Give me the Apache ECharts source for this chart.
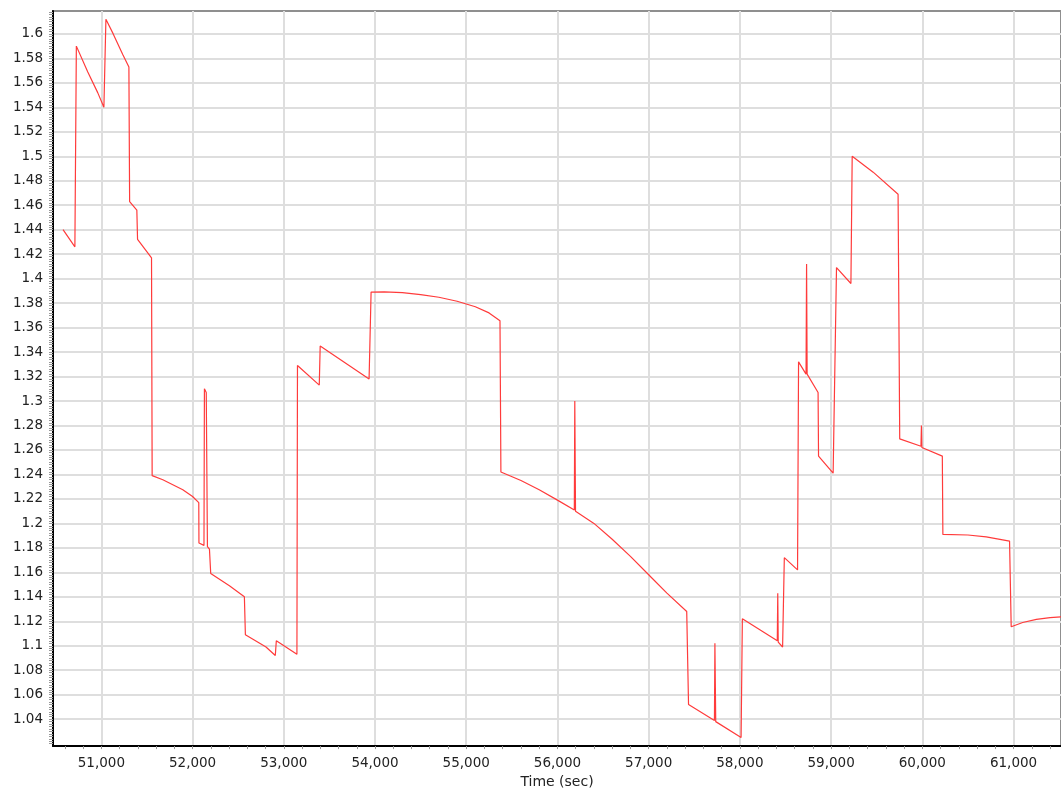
<!DOCTYPE html>
<html>
<head>
<meta charset="utf-8">
<script src="https://cdn.jsdelivr.net/npm/echarts@6/dist/echarts.min.js"></script>
<style>
  html, body { margin: 0; padding: 0; background: #fff; }
  #chart { width: 1061px; height: 794px; }
</style>
</head>
<body>
<div id="chart"></div>
<script>
// time (sec) and value
var times = [
  50580, 50710, 50726, 50850, 50960, 51028, 51050, 51130, 51236, 51302,
  51310, 51389, 51397, 51550, 51557, 51674, 51800, 51893, 52000, 52068,
  52070, 52125, 52130, 52150, 52163, 52185, 52199, 52404, 52568, 52579,
  52805, 52907, 52918, 53144, 53150, 53389, 53399, 53935, 53957, 54100,
  54300, 54500, 54700, 54900, 55100, 55250, 55370, 55380, 55600, 55800,
  56000, 56185, 56190, 56198, 56400, 56600, 56800, 57000, 57200, 57417,
  57437, 57721, 57726, 57735, 58013, 58027, 58410, 58415, 58420, 58468,
  58487, 58632, 58643, 58725, 58731, 58737, 58857, 58862, 59022, 59059,
  59217, 59231, 59461, 59734, 59752, 59985, 59990, 59995, 60219, 60225,
  60500, 60700, 60956, 60974, 61100, 61250, 61400, 61520
];
var values = [
  1.440, 1.426, 1.590, 1.569, 1.552, 1.540, 1.612, 1.600, 1.583, 1.573,
  1.463, 1.456, 1.432, 1.417, 1.239, 1.2356, 1.231, 1.2275, 1.222, 1.217,
  1.184, 1.182, 1.310, 1.307, 1.181, 1.179, 1.159, 1.149, 1.140, 1.109,
  1.099, 1.092, 1.104, 1.093, 1.329, 1.313, 1.345, 1.318, 1.389, 1.3892,
  1.3885, 1.3870, 1.3848, 1.3815, 1.3770, 1.3720, 1.3656, 1.242, 1.235, 1.2275,
  1.219, 1.211, 1.300, 1.210, 1.200, 1.187, 1.173, 1.158, 1.143, 1.128,
  1.052, 1.039, 1.102, 1.038, 1.025, 1.122, 1.104, 1.143, 1.103, 1.099,
  1.172, 1.162, 1.332, 1.322, 1.412, 1.322, 1.307, 1.255, 1.241, 1.409,
  1.396, 1.500, 1.487, 1.469, 1.269, 1.263, 1.280, 1.262, 1.255, 1.191,
  1.1905, 1.189, 1.1855, 1.1155, 1.119, 1.1215, 1.123, 1.1236
];
var xLabels = [51000, 52000, 53000, 54000, 55000, 56000, 57000, 58000, 59000, 60000, 61000];
var yLabels = [1.04, 1.06, 1.08, 1.1, 1.12, 1.14, 1.16, 1.18, 1.2, 1.22, 1.24, 1.26, 1.28,
  1.3, 1.32, 1.34, 1.36, 1.38, 1.4, 1.42, 1.44, 1.46, 1.48, 1.5, 1.52, 1.54, 1.56, 1.58, 1.6];

var X_MIN = 50470, X_MAX = 61520;
var Y_MIN = 1.018, Y_MAX = 1.6187;

// small ticks: every 200 sec and every 0.002
var xMinor = [];
for (var t = 50600; t <= 61400; t += 200) xMinor.push(t);
var yMinor = [];
for (var k = 510; k <= 809; k++) yMinor.push(+(k * 0.002).toFixed(3));

var points = times.map(function (t, i) { return [t, values[i]]; });

var font = 'DejaVu Sans, Verdana, sans-serif';
var chart = echarts.init(document.getElementById('chart'));
chart.setOption({
  animation: false,
  backgroundColor: '#fff',
  grid: {
    left: 53, right: -2, top: 11, bottom: 45,
    show: true, borderColor: '#8f8f8f', borderWidth: 2, backgroundColor: 'transparent'
  },
  xAxis: [{
    type: 'value', min: X_MIN, max: X_MAX, position: 'bottom',
    name: 'Time (sec)', nameLocation: 'middle', nameGap: 27,
    nameTextStyle: { fontSize: 14, color: '#222', fontFamily: font },
    axisLine: { show: true, lineStyle: { color: '#000', width: 2 } },
    axisTick: { show: false, customValues: xLabels },
    axisLabel: {
      customValues: xLabels, margin: 10, fontSize: 13.5, color: '#222', fontFamily: font,
      formatter: function (v) { return v.toLocaleString('en-US'); }
    },
    splitLine: { show: true, customValues: xLabels, lineStyle: { color: '#dedede', width: 2 } }
  }, {
    type: 'value', min: X_MIN, max: X_MAX, position: 'bottom',
    axisLine: { show: false },
    axisTick: { show: true, customValues: xMinor, length: 3, lineStyle: { color: '#999' } },
    axisLabel: { show: false },
    splitLine: { show: false }
  }],
  yAxis: [{
    type: 'value', min: Y_MIN, max: Y_MAX, position: 'left',
    axisLine: { show: true, lineStyle: { color: '#000', width: 2 } },
    axisTick: { show: false, customValues: yLabels },
    axisLabel: {
      customValues: yLabels, margin: 10, fontSize: 13.5, color: '#222', fontFamily: font,
      formatter: function (v) { return String(+v.toFixed(2)); }
    },
    splitLine: { show: true, customValues: yLabels, lineStyle: { color: '#dedede', width: 2 } }
  }, {
    type: 'value', min: Y_MIN, max: Y_MAX, position: 'left',
    axisLine: { show: false },
    axisTick: { show: true, customValues: yMinor, length: 4, lineStyle: { color: '#999' } },
    axisLabel: { show: false },
    splitLine: { show: false }
  }],
  series: [{
    type: 'line',
    xAxisIndex: 0, yAxisIndex: 0,
    data: points,
    showSymbol: false,
    lineStyle: { color: '#ff3b3b', width: 1.2 },
    z: 5
  }]
});
</script>
</body>
</html>
